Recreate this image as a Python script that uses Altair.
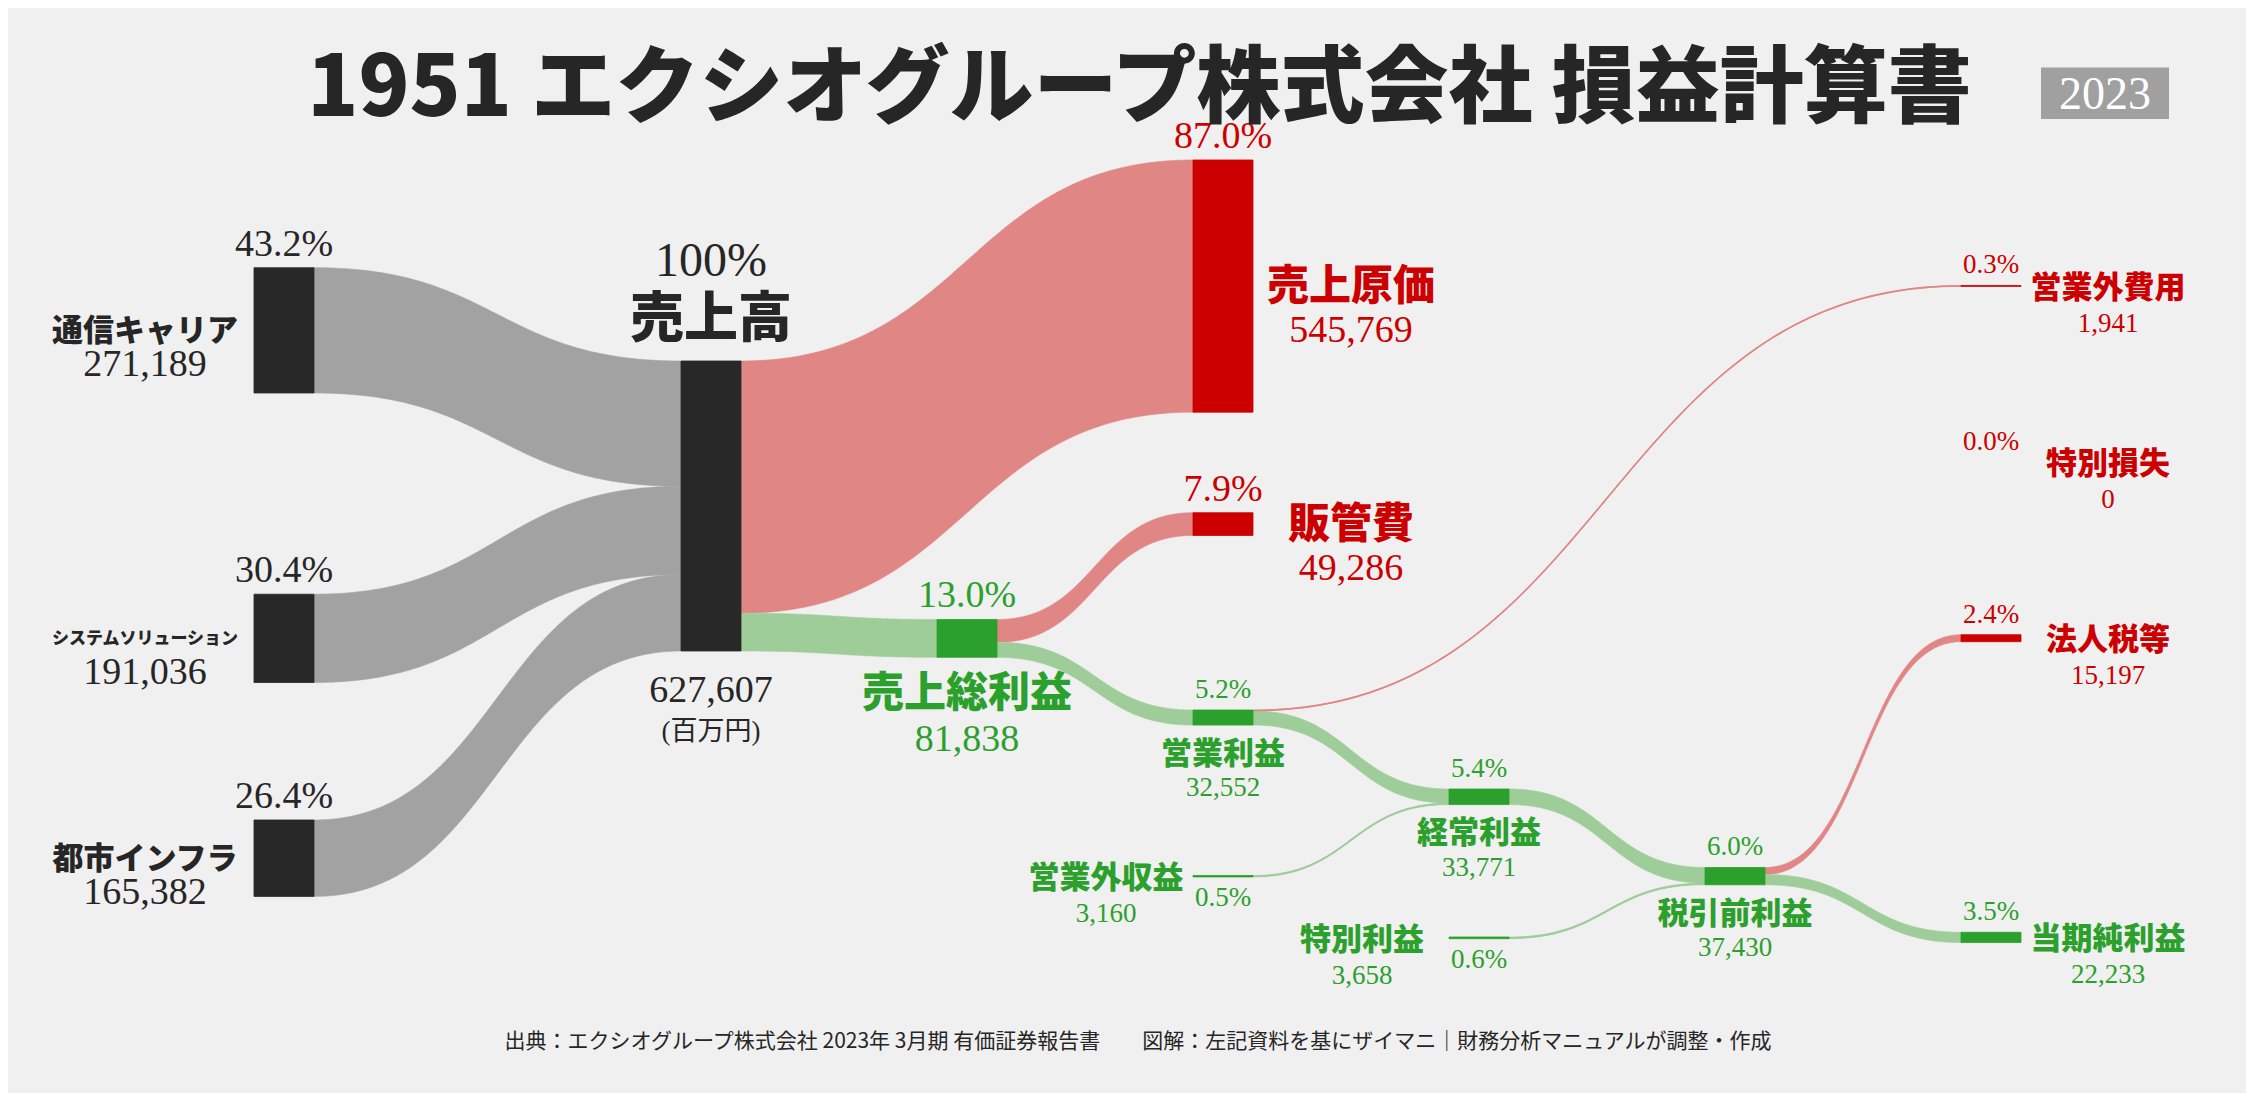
import altair as alt
import numpy as np
import pandas as pd

# ---------------- data (百万円) ----------------
node_names = ["通信キャリア", "システムソリューション", "都市インフラ", "売上高", "売上原価",
              "売上総利益", "販管費", "営業利益", "営業外収益", "営業外費用", "経常利益",
              "特別利益", "特別損失", "税引前利益", "法人税等", "当期純利益"]
node_values = [271189, 191036, 165382, 627607, 545769, 81838, 49286, 32552, 3160, 1941,
               33771, 3658, 0, 37430, 15197, 22233]
node_pcts = ["43.2%", "30.4%", "26.4%", "100%", "87.0%", "13.0%", "7.9%", "5.2%", "0.5%",
             "0.3%", "5.4%", "0.6%", "0.0%", "6.0%", "2.4%", "3.5%"]
node_kinds = ["seg", "seg", "seg", "total", "cost", "profit", "cost", "profit", "gain", "cost",
              "profit", "gain", "cost", "profit", "cost", "profit"]

link_src = ["通信キャリア", "システムソリューション", "都市インフラ", "売上高", "売上高",
            "売上総利益", "売上総利益", "営業利益", "営業利益", "営業外収益", "経常利益",
            "特別利益", "税引前利益", "税引前利益"]
link_tgt = ["売上高", "売上高", "売上高", "売上原価", "売上総利益", "販管費", "営業利益",
            "営業外費用", "経常利益", "経常利益", "税引前利益", "税引前利益", "法人税等", "当期純利益"]
link_val = [271189, 191036, 165382, 545769, 81838, 49286, 32552, 1941, 30611, 3160, 33771,
            3658, 15197, 22233]

title_text = "1951 エクシオグループ株式会社 損益計算書"
year_text = "2023"
unit_text = "(百万円)"
footer_text = ("出典：エクシオグループ株式会社 2023年 3月期 有価証券報告書　　"
               "図解：左記資料を基にザイマニ｜財務分析マニュアルが調整・作成")

# ---------------- layout ----------------
W, H = 2238, 1085
COL_PX, COL0_PX, NODE_PX = 256, 673, 60
Y_UNITS = 2348000           # million yen spanned by the plot height
K = H / Y_UNITS
NW = NODE_PX / COL_PX

node_col = {"通信キャリア": -1.668, "システムソリューション": -1.668, "都市インフラ": -1.668,
            "売上高": 0, "売上総利益": 1, "売上原価": 2, "販管費": 2, "営業利益": 2,
            "営業外収益": 2, "経常利益": 3, "特別利益": 3, "税引前利益": 4,
            "営業外費用": 5, "特別損失": 5, "法人税等": 5, "当期純利益": 5}
node_top = {"通信キャリア": 562000, "システムソリューション": 1268600, "都市インフラ": 1757200,
            "売上高": 763900, "売上原価": 328900, "販管費": 1092200, "売上総利益": 1323300,
            "営業利益": 1519200, "営業外収益": 1877300, "経常利益": 1690100,
            "特別利益": 2010400, "税引前利益": 1860000, "営業外費用": 600500,
            "特別損失": 982500, "法人税等": 1356200, "当期純利益": 2000200}

NODE_COLOR = {"seg": "#282828", "total": "#282828", "cost": "#CC0000",
              "profit": "#2CA02C", "gain": "#2CA02C"}
TEXT_COLOR = {"seg": "#262626", "total": "#262626", "cost": "#CC0000",
              "profit": "#2CA02C", "gain": "#2CA02C"}
LINK_GRAY, LINK_RED, LINK_GREEN = "#A2A2A2", "#E08785", "#9FCD9A"
BG = "#F0F0F0"

val = dict(zip(node_names, node_values))
kind = dict(zip(node_names, node_kinds))
pct = dict(zip(node_names, node_pcts))

xscale = alt.Scale(domain=[-COL0_PX / COL_PX, (W - COL0_PX) / COL_PX], nice=False, zero=False)
yscale = alt.Scale(domain=[0, Y_UNITS], reverse=True, nice=False, zero=False)

# ---------------- nodes ----------------
nodes_df = pd.DataFrame({
    "name": node_names,
    "x": [node_col[n] for n in node_names],
    "x2": [node_col[n] + NW for n in node_names],
    "y": [node_top[n] for n in node_names],
    "y2": [node_top[n] + val[n] for n in node_names],
    "color": [NODE_COLOR[kind[n]] for n in node_names],
    "v": node_values,
})
nodes_df = nodes_df[nodes_df["v"] > 0]

# ---------------- links ----------------
out_off = dict(node_top)
in_off = dict(node_top)
s = np.linspace(0, 1, 120)
fx = 1.5 * s * (1 - s) + s ** 3
fy = 3 * s ** 2 - 2 * s ** 3
rows = []
for i, (a, b, v) in enumerate(zip(link_src, link_tgt, link_val)):
    y0 = out_off[a]; out_off[a] += v
    y1 = in_off[b]; in_off[b] += v
    x0 = node_col[a] + NW
    x1 = node_col[b]
    if b == "売上高":
        c = LINK_GRAY
    elif kind[b] == "cost":
        c = LINK_RED
    else:
        c = LINK_GREEN
    for xx, yy in zip(x0 + (x1 - x0) * fx, y0 + (y1 - y0) * fy):
        rows.append({"link": i, "x": xx, "y": yy, "y2": yy + v, "yc": yy + v / 2,
                     "color": c, "v": v})
links_df = pd.DataFrame(rows)
thin_df = links_df[links_df["v"] < 5000]

# ---------------- labels ----------------
def geom(n):
    left = 8 + COL0_PX + COL_PX * node_col[n]
    cx = left + NODE_PX / 2
    top = 8 + node_top[n] * K
    bot = top + val[n] * K
    return cx, top, bot, (top + bot) / 2

lab = []
def add(style, text, xref, blref, size, color):
    lab.append({"style": style, "text": text,
                "x": (xref - 8 - COL0_PX) / COL_PX, "y": (blref - 8) / K,
                "size": size, "color": color})

def add_name(text, xref, cref, size, color):
    add("sans", text, xref, cref + 0.38 * size, size, color)

for n in node_names:
    cx, top, bot, cy = geom(n)
    k = kind[n]
    col = TEXT_COLOR[k]
    num = f"{val[n]:,}"
    if k == "seg":
        add("serif", pct[n], cx, top - 12, 38, col)
        add_name(n, cx - 139, cy - 1, 17 if len(n) > 8 else 31, col)
        add("serif", num, cx - 139, cy + 46, 38, col)
    elif k == "total":
        add("serif", pct[n], cx, top - 85, 48, col)
        add_name(n, cx, top - 45, 54, col)
        add("serif", num, cx, bot + 51, 38, col)
        add("serif", unit_text, cx, bot + 80 + 0.35 * 27, 27, col)
    elif n in ("売上原価", "販管費"):
        add("serif", pct[n], cx, top - 12, 38, col)
        add_name(n, cx + 128, cy - 2, 42, col)
        add("serif", num, cx + 128, cy + 56, 38, col)
    elif n == "売上総利益":
        add("serif", pct[n], cx, top - 12, 38, col)
        add_name(n, cx, bot + 34, 42, col)
        add("serif", num, cx, bot + 94, 38, col)
    elif k == "profit" and node_col[n] < 5:
        add("serif", pct[n], cx, top - 12, 27, col)
        add_name(n, cx, bot + 27, 31, col)
        add("serif", num, cx, bot + 71, 27, col)
    elif k == "gain":
        add("serif", pct[n], cx, cy + 30, 27, col)
        add_name(n, cx - 117, cy, 31, col)
        add("serif", num, cx - 117, cy + 46, 27, col)
    else:  # right column
        add("serif", pct[n], cx, top - 12, 27, col)
        add_name(n, cx + 117, cy, 31, col)
        add("serif", num, cx + 117, cy + 46, 27, col)

lab_df = pd.DataFrame(lab)

# ---------------- chart ----------------
link_area = alt.Chart(links_df).mark_area(interpolate="linear", strokeWidth=0.6).encode(
    x=alt.X("x:Q", scale=xscale, axis=None),
    y=alt.Y("y:Q", scale=yscale, axis=None, stack=False),
    y2="y2:Q",
    detail="link:N",
    color=alt.Color("color:N", scale=None),
    stroke=alt.Stroke("color:N", scale=None),
)
link_thin = alt.Chart(thin_df).mark_line(strokeWidth=1.6).encode(
    x=alt.X("x:Q", scale=xscale, axis=None),
    y=alt.Y("yc:Q", scale=yscale, axis=None),
    detail="link:N",
    color=alt.Color("color:N", scale=None),
)
node_rect = alt.Chart(nodes_df).mark_rect(strokeWidth=0.8).encode(
    x=alt.X("x:Q", scale=xscale, axis=None),
    x2="x2:Q",
    y=alt.Y("y:Q", scale=yscale, axis=None),
    y2="y2:Q",
    color=alt.Color("color:N", scale=None),
    stroke=alt.Stroke("color:N", scale=None),
)

def text_layer(style, font, weight):
    return alt.Chart(lab_df[lab_df["style"] == style]).mark_text(
        font=font, fontWeight=weight, align="center", baseline="alphabetic"
    ).encode(
        x=alt.X("x:Q", scale=xscale, axis=None),
        y=alt.Y("y:Q", scale=yscale, axis=None),
        text="text:N",
        size=alt.Size("size:Q", scale=None),
        color=alt.Color("color:N", scale=None),
    )

serif_text = text_layer("serif", "Liberation Serif, Noto Sans CJK JP", "normal")
sans_text = text_layer("sans", "Noto Sans CJK JP", 900)

title = alt.Chart(pd.DataFrame({"t": [title_text]})).mark_text(
    font="Noto Sans CJK JP", fontWeight=900, fontSize=84, color="#262626",
    align="center", baseline="alphabetic"
).encode(x=alt.value(1131.5), y=alt.value(108), text="t:N")

badge = alt.Chart(pd.DataFrame({"t": [year_text]})).mark_rect(color="#A0A0A0").encode(
    x=alt.value(2033), x2=alt.value(2161), y=alt.value(59.6), y2=alt.value(111)
)
badge_text = alt.Chart(pd.DataFrame({"t": [year_text]})).mark_text(
    font="Liberation Serif", fontSize=46, color="white", align="center", baseline="alphabetic"
).encode(x=alt.value(2097), y=alt.value(101), text="t:N")

footer = alt.Chart(pd.DataFrame({"t": [footer_text]})).mark_text(
    font="Noto Sans CJK JP", fontSize=21, color="#262626", align="center", baseline="alphabetic"
).encode(x=alt.value(1130), y=alt.value(1040), text="t:N")

chart = alt.layer(
    link_area, link_thin, node_rect, serif_text, sans_text, title, badge, badge_text, footer
).properties(
    width=W, height=H, background=BG, padding=0,
    autosize=alt.AutoSizeParams(type="none"),
).configure_view(stroke=None)

chart.save("out.html", embed_options={"renderer": "svg", "actions": False})
